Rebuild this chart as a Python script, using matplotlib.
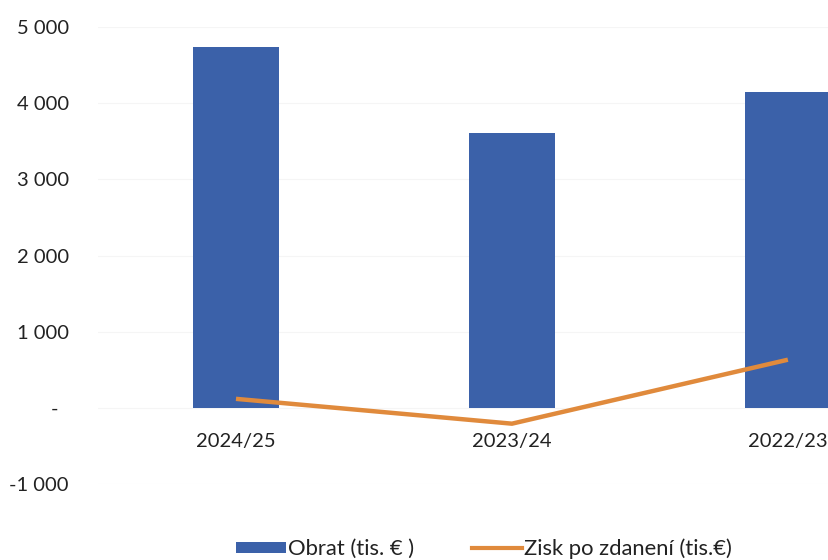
import matplotlib.pyplot as plt
from matplotlib.lines import Line2D
from matplotlib.patches import Patch

plt.rcParams['font.family'] = ['Lato', 'DejaVu Sans']

# Data
years = ['2024/25', '2023/24', '2022/23']
obrat = [4737, 3605, 4145]
zisk = [118, -208, 632]
yticks = [-1000, 0, 1000, 2000, 3000, 4000, 5000]

bar_color = '#3b61a9'
line_color = '#e08a3c'
text_color = '#222222'


def fmt(v):
    if v == 0:
        return '-  '
    return f'{v:,}'.replace(',', ' ')


fig = plt.figure(figsize=(8.29, 5.6), dpi=100)
ax = fig.add_axes([98 / 829, 1 - 484 / 560, 731 / 829, (484 - 27) / 560])

x = list(range(len(years)))
ax.bar(x, obrat, width=0.31, color=bar_color, zorder=2)
ax.plot(x, zisk, color=line_color, linewidth=3.2, solid_capstyle='butt', zorder=3)

ax.set_xlim(-0.5, 2.149)
ax.set_ylim(-1000, 5000)

ax.set_yticks(yticks)
ax.set_yticklabels([fmt(v) for v in yticks], fontsize=14.5, color=text_color)
ax.yaxis.grid(True, color='#f5f5f5', linewidth=0.8, zorder=0)
ax.set_axisbelow(True)

# x labels sit just under the zero line
ax.spines['bottom'].set_position(('data', 0))
ax.set_xticks(x)
ax.set_xticklabels(years, fontsize=14.5, color=text_color)
ax.tick_params(axis='both', length=0)
ax.tick_params(axis='x', pad=18)
ax.tick_params(axis='y', pad=21)

for s in ax.spines.values():
    s.set_visible(False)

handles = [
    Patch(facecolor=bar_color, edgecolor='none', label='Obrat (tis. € )'),
    Line2D([0], [0], color=line_color, linewidth=3, label='Zisk po zdanení (tis.€)'),
]
fig.legend(handles=handles, loc='center', bbox_to_anchor=(484 / 829, 1 - 549 / 560),
           ncol=2, frameon=False, fontsize=15.8, handlelength=2.3, handleheight=0.45,
           columnspacing=2.6, handletextpad=0.1, labelcolor=text_color)

fig.savefig('out.png', dpi=100)
